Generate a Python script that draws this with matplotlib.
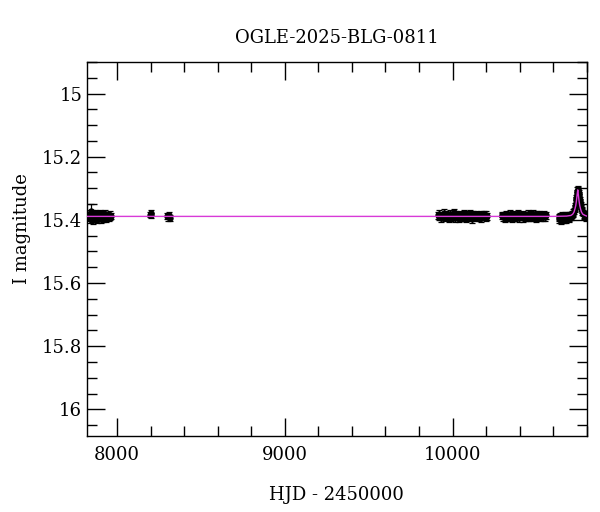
import matplotlib
matplotlib.use("Agg")
import matplotlib.pyplot as plt
from matplotlib.ticker import MultipleLocator

title = "OGLE-2025-BLG-0811"
xlabel = "HJD - 2450000"
ylabel = "I magnitude"

# season 1
t1 = [7830, 7834, 7837, 7840, 7843, 7845, 7846, 7849, 7852, 7855, 7858, 7861, 7864, 7867,
      7870, 7873, 7876, 7879, 7882, 7885, 7888, 7891, 7894, 7897, 7900, 7903, 7906, 7909,
      7912, 7915, 7918, 7921, 7924, 7927, 7930, 7934, 7938, 7942, 7946, 7951, 7956, 7961, 7965]
m1 = [15.392, 15.385, 15.398, 15.380, 15.391, 15.372, 15.386, 15.395, 15.377, 15.389, 15.401,
      15.384, 15.390, 15.379, 15.396, 15.387, 15.392, 15.383, 15.399, 15.388, 15.381, 15.394,
      15.386, 15.390, 15.378, 15.397, 15.385, 15.391, 15.388, 15.382, 15.395, 15.387, 15.393,
      15.380, 15.389, 15.396, 15.384, 15.391, 15.387, 15.393, 15.385, 15.390, 15.388]
e1 = [0.010, 0.009, 0.011, 0.010, 0.009, 0.022, 0.010, 0.011, 0.009, 0.010, 0.012, 0.009,
      0.010, 0.011, 0.010, 0.009, 0.010, 0.011, 0.012, 0.009, 0.010, 0.011, 0.010, 0.009,
      0.010, 0.012, 0.009, 0.010, 0.011, 0.009, 0.012, 0.010, 0.009, 0.010, 0.011, 0.012,
      0.009, 0.010, 0.011, 0.010, 0.012, 0.009, 0.010]

# isolated points
t2 = [8195, 8200, 8205, 8300, 8305, 8310, 8315]
m2 = [15.383, 15.379, 15.386, 15.388, 15.392, 15.384, 15.395]
e2 = [0.009, 0.010, 0.008, 0.010, 0.011, 0.009, 0.010]

# season 3
t3 = [9912, 9917, 9922, 9927, 9932, 9937, 9942, 9947, 9952, 9957, 9962, 9967, 9972, 9977,
      9982, 9987, 9992, 9997, 10002, 10007, 10012, 10017, 10022, 10027, 10032, 10037, 10042,
      10047, 10052, 10057, 10062, 10067, 10072, 10077, 10082, 10087, 10092, 10097, 10102,
      10107, 10112, 10117, 10122, 10127, 10132, 10137, 10142, 10147, 10152, 10157, 10162,
      10167, 10172, 10177, 10182, 10187, 10192, 10197, 10202, 10207]
m3 = [15.386, 15.392, 15.381, 15.389, 15.395, 15.384, 15.390, 15.378, 15.387, 15.393, 15.383,
      15.391, 15.386, 15.397, 15.380, 15.388, 15.392, 15.384, 15.390, 15.376, 15.387, 15.394,
      15.382, 15.389, 15.385, 15.396, 15.381, 15.390, 15.387, 15.393, 15.384, 15.379, 15.391,
      15.386, 15.395, 15.383, 15.389, 15.392, 15.380, 15.388, 15.385, 15.397, 15.383, 15.390,
      15.386, 15.381, 15.393, 15.387, 15.384, 15.391, 15.389, 15.383, 15.395, 15.386, 15.390,
      15.382, 15.388, 15.393, 15.385, 15.389]
e3 = [0.010, 0.009, 0.011, 0.010, 0.012, 0.009, 0.010, 0.011, 0.009, 0.010, 0.012, 0.009,
      0.010, 0.011, 0.010, 0.009, 0.012, 0.010, 0.011, 0.009, 0.010, 0.012, 0.009, 0.010,
      0.011, 0.012, 0.009, 0.010, 0.011, 0.010, 0.009, 0.010, 0.012, 0.009, 0.011, 0.010,
      0.009, 0.012, 0.010, 0.011, 0.009, 0.012, 0.010, 0.009, 0.011, 0.010, 0.012, 0.009,
      0.010, 0.011, 0.009, 0.010, 0.012, 0.009, 0.010, 0.011, 0.010, 0.012, 0.014, 0.010]

# season 4
t4 = [10292, 10297, 10302, 10307, 10312, 10317, 10322, 10327, 10332, 10337, 10342, 10347,
      10352, 10357, 10362, 10367, 10372, 10377, 10382, 10387, 10392, 10397, 10402, 10407,
      10412, 10417, 10422, 10427, 10432, 10437, 10442, 10447, 10452, 10457, 10462, 10467,
      10472, 10477, 10482, 10487, 10492, 10497, 10502, 10507, 10512, 10517, 10522, 10527,
      10532, 10537, 10542, 10547, 10552, 10557]
m4 = [15.388, 15.383, 15.392, 15.386, 15.395, 15.381, 15.389, 15.385, 15.393, 15.387, 15.380,
      15.391, 15.386, 15.396, 15.383, 15.389, 15.392, 15.384, 15.390, 15.378, 15.387, 15.394,
      15.383, 15.389, 15.385, 15.395, 15.381, 15.390, 15.387, 15.393, 15.384, 15.380, 15.391,
      15.386, 15.394, 15.383, 15.389, 15.392, 15.380, 15.388, 15.385, 15.396, 15.383, 15.390,
      15.386, 15.381, 15.393, 15.387, 15.384, 15.391, 15.388, 15.383, 15.392, 15.386]
e4 = [0.010, 0.009, 0.011, 0.010, 0.012, 0.009, 0.010, 0.011, 0.009, 0.010, 0.012, 0.009,
      0.010, 0.011, 0.010, 0.009, 0.012, 0.010, 0.011, 0.009, 0.010, 0.012, 0.009, 0.010,
      0.011, 0.012, 0.009, 0.010, 0.011, 0.010, 0.009, 0.010, 0.012, 0.009, 0.011, 0.010,
      0.009, 0.012, 0.010, 0.011, 0.009, 0.012, 0.010, 0.009, 0.011, 0.010, 0.012, 0.009,
      0.010, 0.011, 0.009, 0.010, 0.013, 0.010]

# season 5 (event)
t5 = [10632, 10636, 10640, 10644, 10648, 10652, 10656, 10660, 10664, 10668, 10672, 10676,
      10680, 10684, 10688, 10692, 10696, 10700, 10704, 10708, 10712, 10716, 10720, 10724,
      10727, 10730, 10733, 10736, 10738, 10740, 10742, 10744, 10746, 10748, 10750, 10752,
      10754, 10756, 10758, 10760, 10763, 10766, 10770, 10774, 10778, 10782, 10786, 10790,
      10794, 10798]
m5 = [15.392, 15.398, 15.388, 15.395, 15.401, 15.386, 15.393, 15.390, 15.397, 15.385, 15.392,
      15.399, 15.388, 15.394, 15.386, 15.391, 15.396, 15.384, 15.390, 15.386, 15.384, 15.381,
      15.377, 15.371, 15.365, 15.357, 15.349, 15.338, 15.331, 15.322, 15.316, 15.309, 15.305,
      15.310, 15.307, 15.315, 15.322, 15.329, 15.338, 15.344, 15.353, 15.361, 15.369, 15.374,
      15.378, 15.382, 15.385, 15.388, 15.384, 15.390]
e5 = [0.011, 0.012, 0.010, 0.011, 0.013, 0.010, 0.011, 0.010, 0.012, 0.010, 0.011, 0.012,
      0.010, 0.011, 0.010, 0.011, 0.012, 0.010, 0.011, 0.010, 0.011, 0.010, 0.011, 0.010,
      0.011, 0.010, 0.011, 0.010, 0.011, 0.010, 0.011, 0.012, 0.011, 0.010, 0.012, 0.011,
      0.010, 0.011, 0.010, 0.011, 0.010, 0.011, 0.010, 0.011, 0.010, 0.011, 0.012, 0.010,
      0.011, 0.012]

# microlensing model curve (traced)
tm = [7821, 10600, 10680, 10705, 10716, 10724, 10730, 10734, 10738, 10742, 10746, 10750,
      10754, 10758, 10762, 10768, 10776, 10790, 10800]
mm = [15.389, 15.389, 15.388, 15.386, 15.382, 15.375, 15.364, 15.355, 15.341, 15.322, 15.305,
      15.322, 15.341, 15.355, 15.364, 15.375, 15.382, 15.386, 15.388]

plt.rcParams["font.family"] = ["DejaVu Serif"]
fig = plt.figure(figsize=(6.0, 5.12), dpi=100)
ax = fig.add_axes([0.145, 0.148, 0.833, 0.731])

for t, m, e in [(t1, m1, e1), (t2, m2, e2), (t3, m3, e3), (t4, m4, e4), (t5, m5, e5)]:
    ax.errorbar(t, m, yerr=e, fmt="o", ms=3.6, color="black", ecolor="black",
                elinewidth=0.9, capsize=2.0, capthick=0.9, zorder=2)

ax.plot(tm, mm, color="#d83ad8", lw=1.0, zorder=3)

ax.set_xlim(7821, 10800)
ax.set_ylim(16.085, 14.9)
ax.xaxis.set_major_locator(MultipleLocator(1000))
ax.xaxis.set_minor_locator(MultipleLocator(200))
ax.yaxis.set_major_locator(MultipleLocator(0.2))
ax.yaxis.set_minor_locator(MultipleLocator(0.05))
ax.yaxis.set_major_formatter(matplotlib.ticker.FuncFormatter(lambda v, p: f"{v:g}"))
ax.tick_params(which="both", direction="in", top=True, right=True, width=1.0, labelsize=13)
ax.tick_params(which="major", length=13)
ax.tick_params(which="minor", length=7)
ax.tick_params(axis="x", pad=7)
for s in ax.spines.values():
    s.set_linewidth(1.0)

ax.set_title(title, fontsize=13, pad=14)
ax.set_xlabel(xlabel, fontsize=13, labelpad=16)
ax.set_ylabel(ylabel, fontsize=13)
ax.yaxis.set_label_coords(-0.112, 0.555)

fig.savefig("out.png", dpi=100)
